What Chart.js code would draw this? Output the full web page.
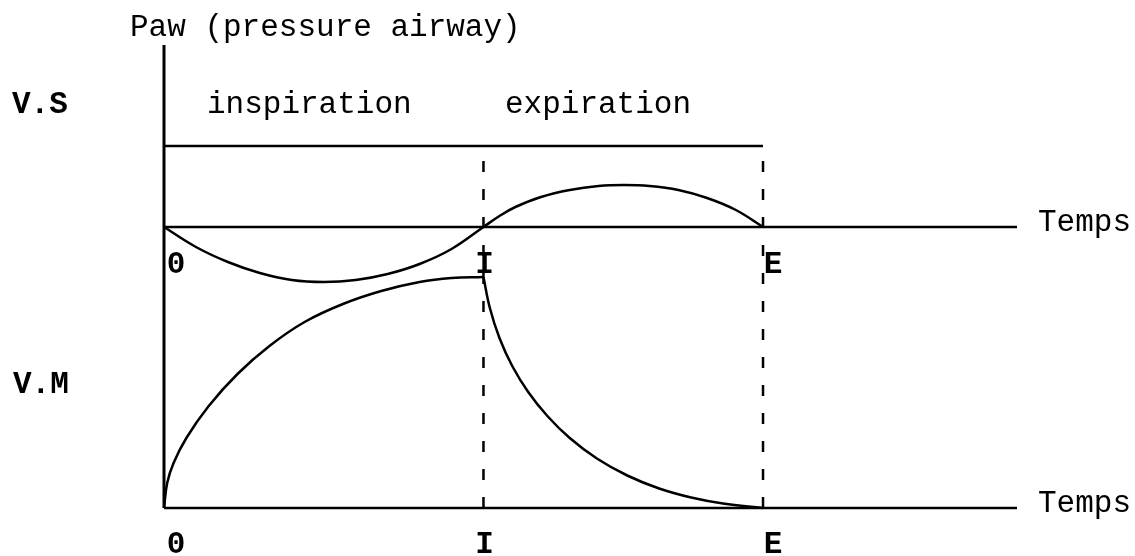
<!DOCTYPE html>
<html>
<head>
<meta charset="utf-8">
<script src="https://cdn.jsdelivr.net/npm/chart.js@4"></script>
<style>
  html, body { margin: 0; padding: 0; background: #fff; }
  #wrap { width: 1135px; height: 556px; }
</style>
</head>
<body>
<div id="wrap"><canvas id="chart"></canvas></div>
<script>
// Data Stuff

// time marks: O = start of inspiration, I = end of inspiration, E = end of expiration
var markTime = [0, 1, 1.875];
var markLabels = ['0', 'I', 'E'];
var timeEnd = 2.67;

// V.S (spontaneous ventilation) : Paw during inspiration / expiration
var vsInspTime = [0, 0.1, 0.2, 0.3, 0.4, 0.5, 0.6, 0.7, 0.8, 0.9, 1.0];
var vsInspPaw  = [0, -2.0, -3.5, -4.6, -5.3, -5.5, -5.3, -4.7, -3.7, -2.2, 0];
var vsExpTime  = [1.0, 1.05, 1.10, 1.18, 1.27, 1.36, 1.44, 1.52, 1.61, 1.70, 1.79, 1.875];
var vsExpPaw   = [0, 1.1, 2.0, 3.0, 3.7, 4.1, 4.2, 4.1, 3.7, 2.9, 1.7, 0];
var vsUpper = 8.1;

// V.M (mechanical ventilation) : Paw during inspiration / expiration
var vmInspTime = [0, 0.01, 0.03, 0.07, 0.14, 0.23, 0.33, 0.44, 0.56, 0.68, 0.80, 0.90, 1.0];
var vmInspPaw  = [0, 2.5, 4.5, 7.0, 10.2, 13.4, 16.2, 18.6, 20.4, 21.7, 22.6, 23.0, 23.1];
var vmExpTime  = [1.0, 1.02, 1.05, 1.09, 1.14, 1.20, 1.27, 1.355, 1.45, 1.55, 1.65, 1.75, 1.875];
var vmExpPaw   = [23.1, 20.0, 17.0, 14.2, 11.6, 9.2, 7.0, 4.95, 3.25, 1.95, 1.05, 0.45, 0];
var vmUpper = 36.2;

// texts
var title = 'Paw (pressure airway)';
var phaseLabels = ['inspiration', 'expiration'];
var panelLabels = ['V.S', 'V.M'];
var axisLabel = 'Temps';


// Chart Stuff

const FONT = '"Liberation Mono", "Courier New", monospace';
const labelNudge = [12, 1, 10];

const pts = (xs, ys) => xs.map((x, i) => ({ x: x, y: ys[i] }));

const line = (data, axis, extra) => Object.assign({
    data: data,
    yAxisID: axis,
    showLine: true,
    borderColor: '#000000',
    borderWidth: 2.5,
    pointRadius: 0,
    fill: false,
    clip: false
}, extra || {});

const curve = { tension: 0.4 };
const dashed = { borderDash: [11, 17], borderWidth: 2.5 };

const textPlugin = {
    id: 'texts',
    afterDraw(chart) {
        const ctx = chart.ctx;
        const x = chart.scales.x, ys = chart.scales.yVS, ym = chart.scales.yVM;
        ctx.save();
        ctx.fillStyle = '#000000';
        ctx.textAlign = 'left';
        ctx.textBaseline = 'alphabetic';

        ctx.font = '31px ' + FONT;
        ctx.fillText(title, 130, 36);
        ctx.fillText(phaseLabels[0], 207, 113);
        ctx.fillText(phaseLabels[1], 505, 113);

        ctx.font = 'bold 31px ' + FONT;
        ctx.fillText(panelLabels[0], 12, 113);
        ctx.fillText(panelLabels[1], 13, 393);

        // Temps next to both time lines
        ctx.font = '31px ' + FONT;
        ctx.textBaseline = 'middle';
        const tx = x.getPixelForValue(timeEnd) + 21;
        ctx.fillText(axisLabel, tx, ys.getPixelForValue(0) - 4);
        ctx.fillText(axisLabel, tx, ym.getPixelForValue(0) - 4);

        // O, I, E under both time lines
        ctx.font = 'bold 31px ' + FONT;
        ctx.textAlign = 'center';
        for (var i = 0; i < markTime.length; i++) {
            const px = x.getPixelForValue(markTime[i]) + labelNudge[i];
            ctx.fillText(markLabels[i], px, ys.getPixelForValue(0) + 38);
            ctx.fillText(markLabels[i], px, ym.getPixelForValue(0) + 37);
        }
        ctx.restore();
    }
};

new Chart(document.getElementById('chart'), {
    type: 'scatter',
    data: {
        datasets: [
            // vertical Paw axis
            line(pts([0, 0], [0, 46.3]), 'yVM', { borderWidth: 3 }),
            // V.S panel
            line(pts([0, timeEnd], [0, 0]), 'yVS'),
            line(pts([0, markTime[2]], [vsUpper, vsUpper]), 'yVS'),
            line(pts(vsInspTime, vsInspPaw), 'yVS', curve),
            line(pts(vsExpTime, vsExpPaw), 'yVS', curve),
            // V.M panel
            line(pts([0, timeEnd], [0, 0]), 'yVM'),
            line(pts(vmInspTime, vmInspPaw), 'yVM', curve),
            line(pts(vmExpTime, vmExpPaw), 'yVM', curve),
            // dashed phase limits at I and E
            line(pts([markTime[1], markTime[1]], [0, vmUpper]), 'yVM', dashed),
            line(pts([markTime[2], markTime[2]], [0, vmUpper]), 'yVM', dashed)
        ]
    },
    options: {
        maintainAspectRatio: false,
        responsive: true,
        animation: false,
        events: [],
        layout: { padding: { left: 164, right: 118, top: 45, bottom: 48 } },
        scales: {
            x: { type: 'linear', min: 0, max: timeEnd, display: false },
            yVS: { type: 'linear', min: -28.1, max: 18.2, display: false },
            yVM: { type: 'linear', min: 0, max: 46.3, display: false }
        },
        plugins: {
            legend: { display: false },
            tooltip: { enabled: false }
        }
    },
    plugins: [textPlugin]
});
</script>
</body>
</html>
